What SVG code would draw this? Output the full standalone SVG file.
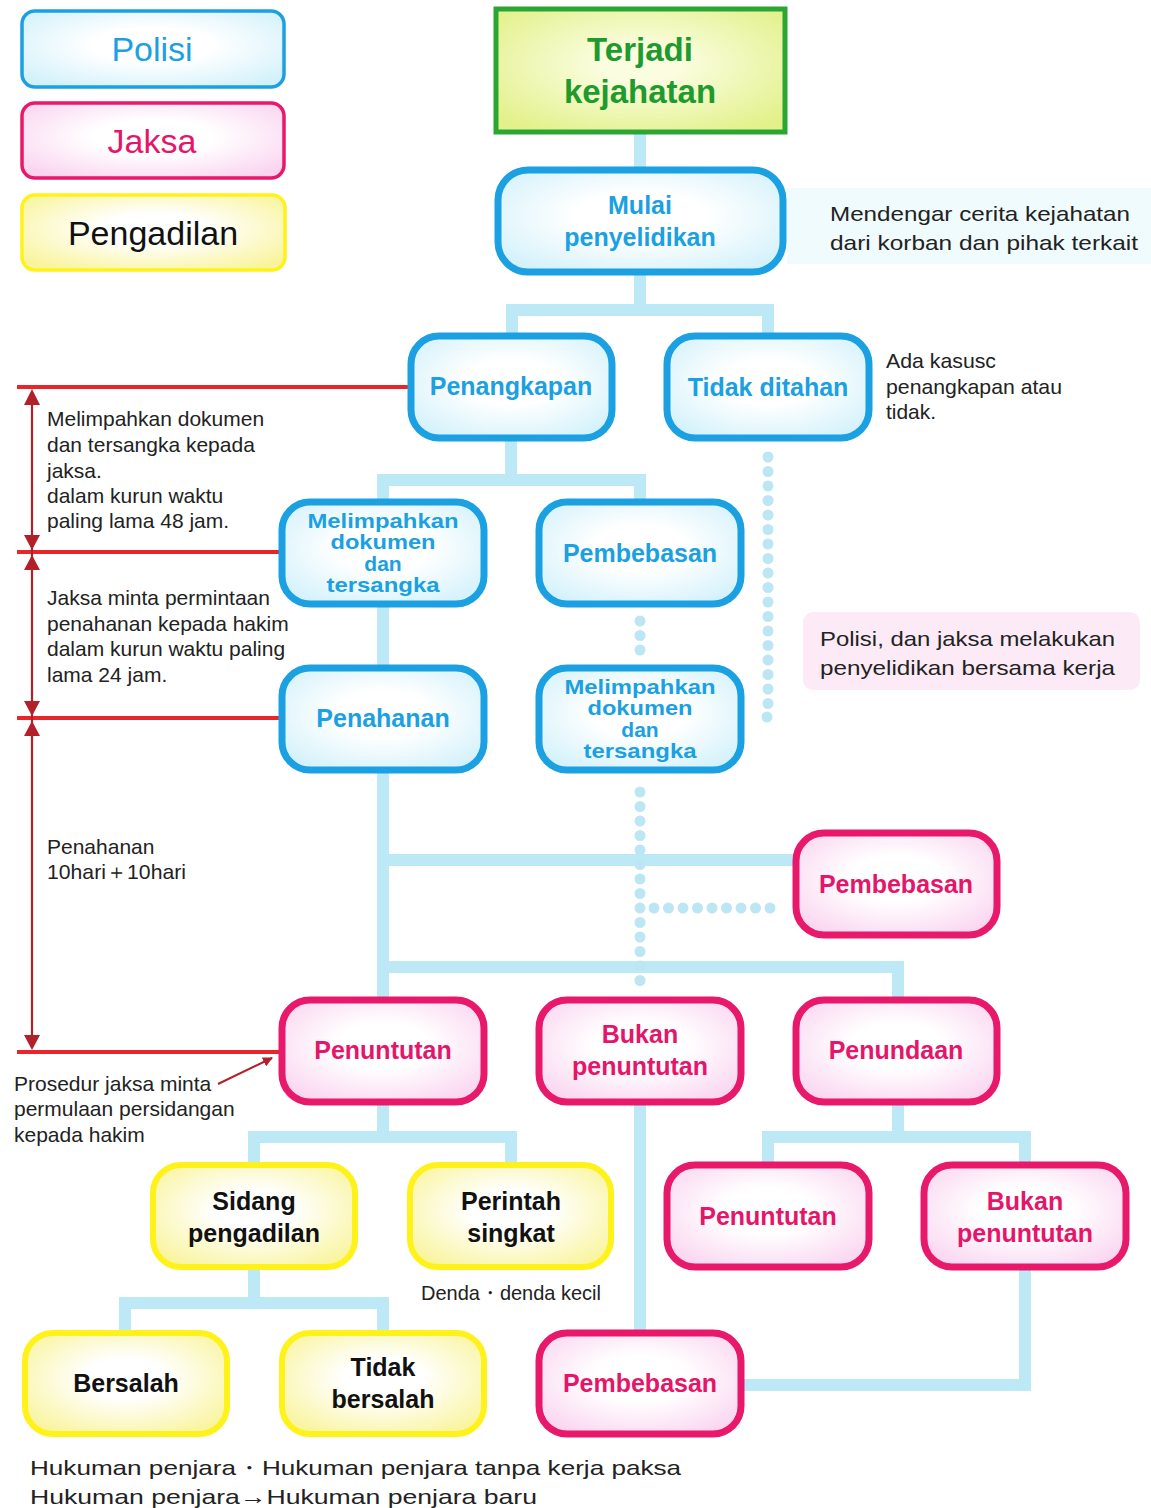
<svg xmlns="http://www.w3.org/2000/svg" width="1151" height="1508" viewBox="0 0 1151 1508">
<defs>
<radialGradient id="gb" cx="50%" cy="45%" r="65%"><stop offset="0.35" stop-color="#ffffff"/><stop offset="1" stop-color="#d2f1fb"/></radialGradient>
<radialGradient id="gp" cx="50%" cy="45%" r="65%"><stop offset="0.35" stop-color="#ffffff"/><stop offset="1" stop-color="#fad4f0"/></radialGradient>
<radialGradient id="gy" cx="50%" cy="45%" r="65%"><stop offset="0.3" stop-color="#ffffff"/><stop offset="1" stop-color="#f9f49a"/></radialGradient>
<radialGradient id="gg" cx="50%" cy="45%" r="65%"><stop offset="0.2" stop-color="#fbfde0"/><stop offset="1" stop-color="#e2f18a"/></radialGradient>
<marker id="ah" viewBox="0 0 10 10" refX="9" refY="5" markerWidth="5" markerHeight="5" orient="auto-start-reverse" markerUnits="strokeWidth"><path d="M0,0 L10,5 L0,10 z" fill="#b3202a"/></marker>
<style>
.b{fill:url(#gb);stroke:#1ba0e2;stroke-width:7}
.p{fill:url(#gp);stroke:#e8196b;stroke-width:7}
.y{fill:url(#gy);stroke:#fff21a;stroke-width:6}
.lg{stroke-width:3.5}
.tb{font-family:"Liberation Sans",Arial,sans-serif;font-weight:bold;font-size:25px;fill:#1ba0e2;text-anchor:middle}
.tp{font-family:"Liberation Sans",Arial,sans-serif;font-weight:bold;font-size:25px;fill:#e5166a;text-anchor:middle}
.ty{font-family:"Liberation Sans",Arial,sans-serif;font-weight:bold;font-size:25px;fill:#111;text-anchor:middle}
.tm{font-size:21px}
.note{font-family:"Liberation Sans",Arial,sans-serif;font-size:21px;fill:#222}
.conn{fill:none;stroke:#bde9f7;stroke-width:12}
.dot{fill:none;stroke:#bde6f5;stroke-width:11;stroke-linecap:round;stroke-dasharray:0 14.5}
.red{fill:none;stroke:#e8262a;stroke-width:4}
.tri{fill:#b3202a}
</style>
</defs>
<rect width="1151" height="1508" fill="#ffffff"/>

<!-- side notes backgrounds -->
<rect x="787" y="188" width="364" height="76" fill="#f0fbfd"/>
<rect x="803" y="612" width="337" height="78" rx="10" fill="#fcebf7"/>

<g id="connectors">
<path class="conn" d="M640,133 V167 M640,275 V310 M512,310 H768 M512,304 V333 M768,304 V333"/>
<path class="conn" d="M511,441 V480 M383,480 H640 M383,474 V499 M640,474 V499"/>
<path class="conn" d="M383,607 V665"/>
<path class="conn" d="M383,773 V997 M377,860 H793 M377,967 H898 M898,961 V997"/>
<path class="conn" d="M383,1105 V1137 M254,1137 H511 M254,1131 V1162 M511,1131 V1162"/>
<path class="conn" d="M898,1105 V1137 M768,1137 H1025 M768,1131 V1162 M1025,1131 V1162"/>
<path class="conn" d="M254,1270 V1303 M125,1303 H383 M125,1297 V1330 M383,1297 V1330"/>
<path class="conn" d="M640,1105 V1330"/>
<path class="conn" d="M1025,1270 V1385 M744,1385 H1031"/>
<path class="dot" d="M768,457 V717 H753"/>
<path class="dot" d="M640,621 V651"/>
<path class="dot" d="M640,792 V985"/>
<path class="dot" d="M654,908 H784"/>
<!-- red time lines -->
<path class="red" d="M17,387 H408 M17,552 H279 M17,718 H279 M17,1052 H279"/>
<path d="M32,392 V1048" stroke="#b3202a" stroke-width="2.2" fill="none"/>
<path class="tri" d="M32,389 L24,405 H40 z M32,550 L24,535 H40 z M32,555 L24,570 H40 z M32,716 L24,701 H40 z M32,721 L24,736 H40 z M32,1050 L24,1035 H40 z"/>
<path d="M218,1084 L272,1058" stroke="#b3202a" stroke-width="2" fill="none" marker-end="url(#ah)"/>
</g>

<!-- legend -->
<g id="legend-polisi"><rect class="b lg" x="22" y="11" width="262" height="76" rx="13"/><text x="152" y="61" font-family="Liberation Sans,Arial,sans-serif" font-size="34" fill="#1ba0e2" text-anchor="middle">Polisi</text></g>
<g id="legend-jaksa"><rect class="p lg" x="22" y="103" width="262" height="75" rx="13"/><text x="152" y="153" font-family="Liberation Sans,Arial,sans-serif" font-size="34" fill="#e5166a" text-anchor="middle">Jaksa</text></g>
<g id="legend-pengadilan"><rect class="y lg" x="22" y="195" width="263" height="75" rx="13"/><text x="153" y="245" font-family="Liberation Sans,Arial,sans-serif" font-size="34" fill="#111" text-anchor="middle">Pengadilan</text></g>

<g id="n-terjadi"><rect x="496" y="9" width="289" height="123" fill="url(#gg)" stroke="#2ba534" stroke-width="5"/>
<text x="640" y="61" font-family="Liberation Sans,Arial,sans-serif" font-weight="bold" font-size="33" fill="#1f9a2e" text-anchor="middle">Terjadi</text>
<text x="640" y="103" font-family="Liberation Sans,Arial,sans-serif" font-weight="bold" font-size="33" fill="#1f9a2e" text-anchor="middle">kejahatan</text></g>

<g id="n-mulai"><rect class="b" x="498" y="170" width="285" height="102" rx="30"/><text class="tb" x="640" y="214">Mulai</text><text class="tb" x="640" y="246">penyelidikan</text></g>
<g id="n-penangkapan"><rect class="b" x="411" y="336" width="201" height="102" rx="28"/><text class="tb" x="511" y="395" font-size="24">Penangkapan</text></g>
<g id="n-tidakditahan"><rect class="b" x="667" y="336" width="202" height="102" rx="28"/><text class="tb" x="768" y="396" font-size="26">Tidak ditahan</text></g>
<g id="n-melimpahkan1"><rect class="b" x="282" y="502" width="202" height="102" rx="28"/><text class="tb tm" x="383" y="528" textLength="151" lengthAdjust="spacingAndGlyphs">Melimpahkan</text><text class="tb tm" x="383" y="549" textLength="105" lengthAdjust="spacingAndGlyphs">dokumen</text><text class="tb tm" x="383" y="571">dan</text><text class="tb tm" x="383" y="592" textLength="113" lengthAdjust="spacingAndGlyphs">tersangka</text></g>
<g id="n-pembebasan1"><rect class="b" x="539" y="502" width="202" height="102" rx="28"/><text class="tb" x="640" y="562">Pembebasan</text></g>
<g id="n-penahanan"><rect class="b" x="282" y="668" width="202" height="102" rx="28"/><text class="tb" x="383" y="727">Penahanan</text></g>
<g id="n-melimpahkan2"><rect class="b" x="539" y="668" width="202" height="102" rx="28"/><text class="tb tm" x="640" y="694" textLength="151" lengthAdjust="spacingAndGlyphs">Melimpahkan</text><text class="tb tm" x="640" y="715" textLength="105" lengthAdjust="spacingAndGlyphs">dokumen</text><text class="tb tm" x="640" y="737">dan</text><text class="tb tm" x="640" y="758" textLength="113" lengthAdjust="spacingAndGlyphs">tersangka</text></g>
<g id="n-pembebasan2"><rect class="p" x="796" y="833" width="201" height="102" rx="28"/><text class="tp" x="896" y="893">Pembebasan</text></g>
<g id="n-penuntutan1"><rect class="p" x="282" y="1000" width="202" height="102" rx="28"/><text class="tp" x="383" y="1059">Penuntutan</text></g>
<g id="n-bukan1"><rect class="p" x="539" y="1000" width="202" height="102" rx="28"/><text class="tp" x="640" y="1043">Bukan</text><text class="tp" x="640" y="1075">penuntutan</text></g>
<g id="n-penundaan"><rect class="p" x="796" y="1000" width="201" height="102" rx="28"/><text class="tp" x="896" y="1059">Penundaan</text></g>
<g id="n-sidang"><rect class="y" x="153" y="1165" width="202" height="102" rx="28"/><text class="ty" x="254" y="1210">Sidang</text><text class="ty" x="254" y="1242">pengadilan</text></g>
<g id="n-perintah"><rect class="y" x="410" y="1165" width="201" height="102" rx="28"/><text class="ty" x="511" y="1210">Perintah</text><text class="ty" x="511" y="1242">singkat</text></g>
<g id="n-penuntutan2"><rect class="p" x="667" y="1165" width="202" height="102" rx="28"/><text class="tp" x="768" y="1225">Penuntutan</text></g>
<g id="n-bukan2"><rect class="p" x="924" y="1165" width="202" height="102" rx="28"/><text class="tp" x="1025" y="1210">Bukan</text><text class="tp" x="1025" y="1242">penuntutan</text></g>
<g id="n-bersalah"><rect class="y" x="25" y="1333" width="202" height="101" rx="28"/><text class="ty" x="126" y="1392">Bersalah</text></g>
<g id="n-tidakbersalah"><rect class="y" x="282" y="1333" width="202" height="101" rx="28"/><text class="ty" x="383" y="1376">Tidak</text><text class="ty" x="383" y="1408">bersalah</text></g>
<g id="n-pembebasan3"><rect class="p" x="539" y="1333" width="202" height="101" rx="28"/><text class="tp" x="640" y="1392">Pembebasan</text></g>

<!-- annotations -->
<g id="notes">
<text class="note" font-size="24" x="830" y="221" textLength="300" lengthAdjust="spacingAndGlyphs">Mendengar cerita kejahatan</text>
<text class="note" font-size="24" x="830" y="250" textLength="308" lengthAdjust="spacingAndGlyphs">dari korban dan pihak terkait</text>
<text class="note" font-size="21" x="886" y="368" textLength="110" lengthAdjust="spacingAndGlyphs">Ada kasusc</text>
<text class="note" font-size="21" x="886" y="394" textLength="176" lengthAdjust="spacingAndGlyphs">penangkapan atau</text>
<text class="note" font-size="21" x="886" y="419" textLength="50" lengthAdjust="spacingAndGlyphs">tidak.</text>
<text class="note" font-size="24" x="820" y="646" textLength="295" lengthAdjust="spacingAndGlyphs">Polisi, dan jaksa melakukan</text>
<text class="note" font-size="24" x="820" y="675" textLength="295" lengthAdjust="spacingAndGlyphs">penyelidikan bersama kerja</text>
<text class="note" x="47" y="426">Melimpahkan dokumen</text>
<text class="note" x="47" y="452">dan tersangka kepada</text>
<text class="note" x="47" y="478">jaksa.</text>
<text class="note" x="47" y="503">dalam kurun waktu</text>
<text class="note" x="47" y="528">paling lama 48 jam.</text>
<text class="note" x="47" y="605">Jaksa minta permintaan</text>
<text class="note" x="47" y="631">penahanan kepada hakim</text>
<text class="note" x="47" y="656">dalam kurun waktu paling</text>
<text class="note" x="47" y="682">lama 24 jam.</text>
<text class="note" x="47" y="854">Penahanan</text>
<text class="note" x="47" y="879" textLength="139" lengthAdjust="spacingAndGlyphs">10hari＋10hari</text>
<text class="note" x="14" y="1091">Prosedur jaksa minta</text>
<text class="note" x="14" y="1116">permulaan persidangan</text>
<text class="note" x="14" y="1142">kepada hakim</text>
<text class="note" font-size="23" x="421" y="1300" textLength="180" lengthAdjust="spacingAndGlyphs">Denda・denda kecil</text>
<text class="note" font-size="26" x="30" y="1475" textLength="651" lengthAdjust="spacingAndGlyphs">Hukuman penjara・Hukuman penjara tanpa kerja paksa</text>
<text class="note" font-size="26" x="30" y="1504" textLength="507" lengthAdjust="spacingAndGlyphs">Hukuman penjara→Hukuman penjara baru</text>
</g>
</svg>
